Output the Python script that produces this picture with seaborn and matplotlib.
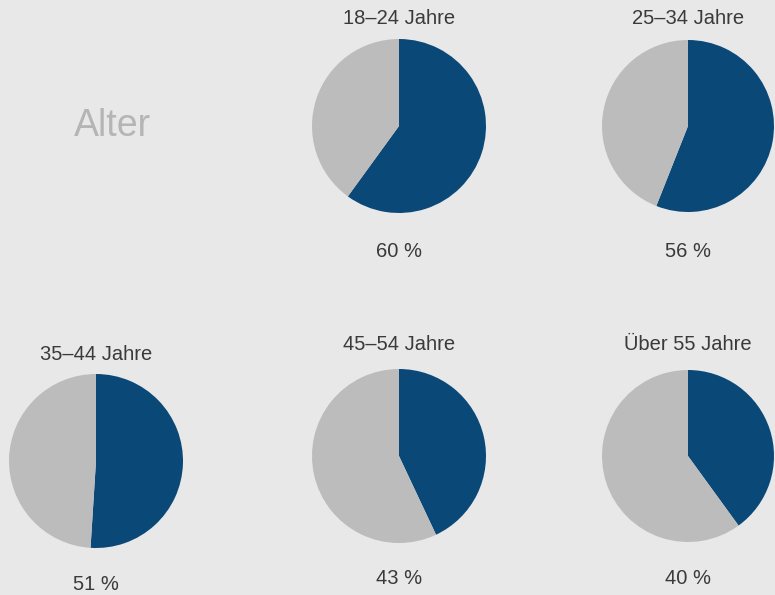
import matplotlib
matplotlib.use("Agg")
import matplotlib.pyplot as plt
import seaborn as sns

groups = ["18–24 Jahre", "25–34 Jahre", "35–44 Jahre", "45–54 Jahre", "Über 55 Jahre"]
shares = [60, 56, 51, 43, 40]
title = "Alter"

sns.set_theme(style="white")
plt.rcParams["font.family"] = ["Liberation Sans", "DejaVu Sans"]

BG = "#e8e8e8"
BLUE = "#0a4878"
GREY = "#bcbcbc"
TXT = "#3a3a3a"

W, H = 775, 595
fig = plt.figure(figsize=(W / 100, H / 100), dpi=100, facecolor=BG)

# pixel layout: (cx, cy, r, label_y, pct_y)
layout = [
    (399, 126, 87, 18, 251),
    (688, 126, 86, 18, 251),
    (96, 461, 87, 354, 584),
    (399, 456, 87, 345, 579),
    (688, 456, 86, 345, 579),
]

for name, val, (cx, cy, r, ly, py) in zip(groups, shares, layout):
    ax = fig.add_axes([(cx - r) / W, 1 - (cy + r) / H, 2 * r / W, 2 * r / H])
    ax.pie([val, 100 - val], colors=[BLUE, GREY], startangle=90,
           counterclock=False, radius=1.0,
           wedgeprops=dict(linewidth=0))
    ax.set_xlim(-1, 1)
    ax.set_ylim(-1, 1)
    ax.set_aspect("auto")
    ax.axis("off")
    fig.text(cx / W, 1 - ly / H, name, ha="center", va="center",
             fontsize=14.5, color=TXT)
    fig.text(cx / W, 1 - py / H, f"{val} %", ha="center", va="center",
             fontsize=14.5, color=TXT)

fig.text(112 / W, 1 - 126 / H, title, ha="center", va="center",
         fontsize=27, color="#b5b5b5")

fig.savefig("out.png", dpi=100, facecolor=BG)
